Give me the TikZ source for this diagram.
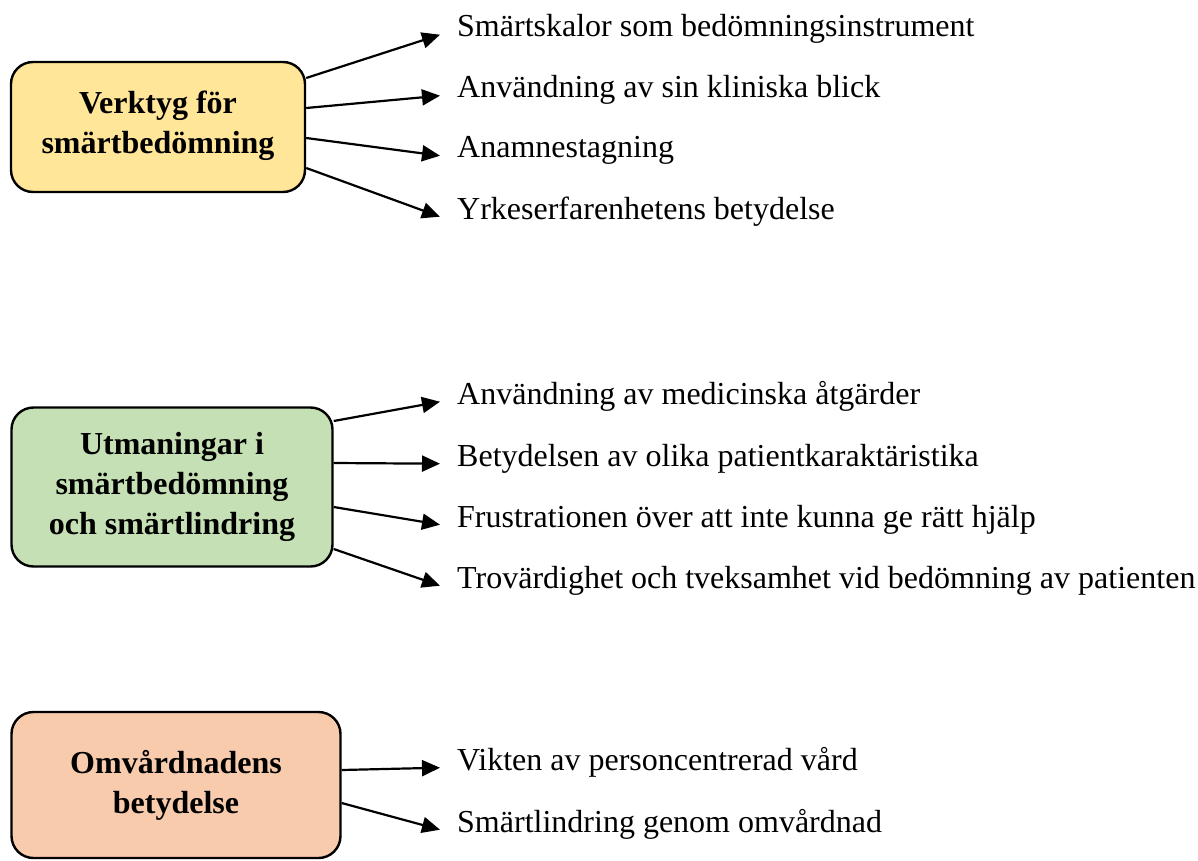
\documentclass[tikz,border=0pt]{standalone}
\usepackage{fontspec}
\setmainfont{Liberation Serif}
\usetikzlibrary{arrows.meta}
\definecolor{gulbox}{HTML}{FFE699}
\definecolor{gronbox}{HTML}{C5E0B4}
\definecolor{orangebox}{HTML}{F8CBAD}

\begin{document}
\begin{tikzpicture}[x=1pt,y=-1pt,>={Triangle[length=18pt,width=16pt]},
  tema/.style={draw,line width=2.4pt,rounded corners=22pt,align=center,inner sep=0pt,
    font=\fontsize{32}{40}\selectfont\bfseries},
  punkt/.style={anchor=base west,inner xsep=17pt,inner ysep=0pt,font=\fontsize{32}{38}\selectfont},
  pil/.style={->,line width=2.2pt}]
\useasboundingbox (0,0) rectangle (1198,861);
% verktyg
\node[tema,fill=gulbox,minimum width=294pt,minimum height=130pt] (verktyg) at (158,127) {Verktyg för\\smärtbedömning\\[-30pt]};
\node[punkt] (v1) at (440,37) {Smärtskalor som bedömningsinstrument};
\node[punkt] (v2) at (440,98) {Användning av sin kliniska blick};
\node[punkt] (v3) at (440,158) {Anamnestagning};
\node[punkt] (v4) at (440,219) {Yrkeserfarenhetens betydelse};
\draw[pil] ([yshift=49pt]verktyg.east) -- (v1.mid west);
\draw[pil] ([yshift=19pt]verktyg.east) -- (v2.mid west);
\draw[pil] ([yshift=-11pt]verktyg.east) -- (v3.mid west);
\draw[pil] ([yshift=-41pt]verktyg.east) -- (v4.mid west);
% utmaningar
\node[tema,fill=gronbox,minimum width=321pt,minimum height=159pt] (utman) at (172,487) {Utmaningar i\\smärtbedömning\\och smärtlindring};
\node[punkt] (u1) at (440,404) {Användning av medicinska åtgärder};
\node[punkt] (u2) at (440,466) {Betydelsen av olika patientkaraktäristika};
\node[punkt] (u3) at (440,527) {Frustrationen över att inte kunna ge rätt hjälp};
\node[punkt] (u4) at (440,588) {Trovärdighet och tveksamhet vid bedömning av patienten};
\draw[pil] ([yshift=66pt]utman.east) -- (u1.mid west);
\draw[pil] ([yshift=24pt]utman.east) -- (u2.mid west);
\draw[pil] ([yshift=-20pt]utman.east) -- (u3.mid west);
\draw[pil] ([yshift=-62pt]utman.east) -- (u4.mid west);
% omvardnad
\node[tema,fill=orangebox,minimum width=329pt,minimum height=146pt] (omv) at (176,785) {Omvårdnadens\\betydelse};
\node[punkt] (o1) at (440,770) {Vikten av personcentrerad vård};
\node[punkt] (o2) at (440,832) {Smärtlindring genom omvårdnad};
\draw[pil] ([yshift=15pt]omv.east) -- (o1.mid west);
\draw[pil] ([yshift=-18pt]omv.east) -- (o2.mid west);
\end{tikzpicture}
\end{document}
